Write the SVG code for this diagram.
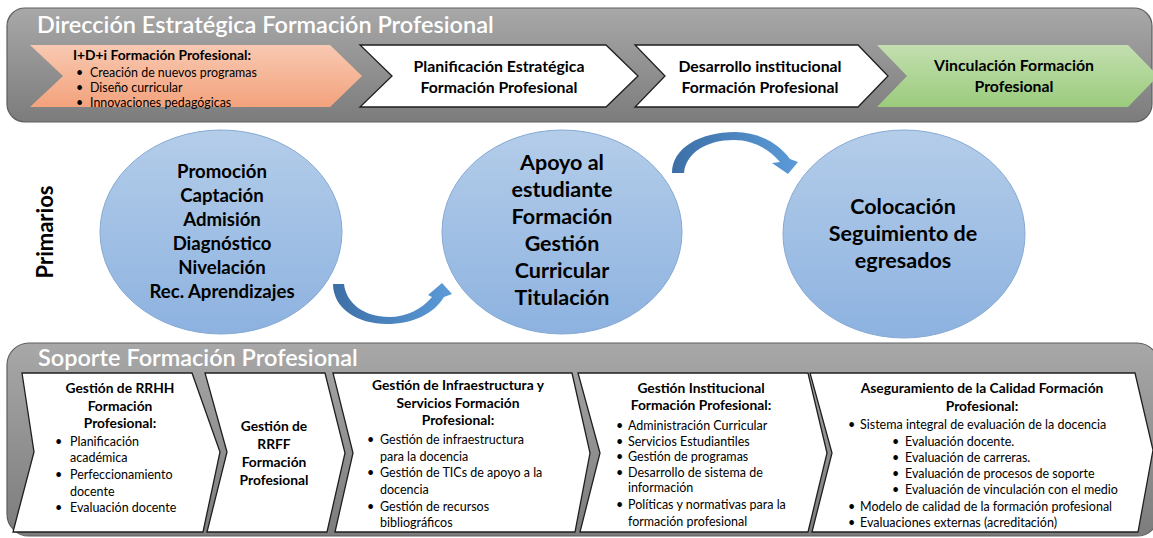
<svg xmlns="http://www.w3.org/2000/svg" width="1153" height="538" viewBox="0 0 1153 538">
  <defs>
    <linearGradient id="panelGrad" x1="0" y1="0" x2="0" y2="1">
      <stop offset="0" stop-color="#a8a8a8"/>
      <stop offset="1" stop-color="#7c7c7c"/>
    </linearGradient>
    <linearGradient id="orangeGrad" x1="0" y1="0" x2="0" y2="1">
      <stop offset="0" stop-color="#f8c9b2"/>
      <stop offset="1" stop-color="#f3a27c"/>
    </linearGradient>
    <linearGradient id="greenGrad" x1="0" y1="0" x2="0" y2="1">
      <stop offset="0" stop-color="#c3dfb0"/>
      <stop offset="1" stop-color="#9bcb7c"/>
    </linearGradient>
    <linearGradient id="circleGrad" x1="0" y1="0" x2="0" y2="1">
      <stop offset="0" stop-color="#b4cde9"/>
      <stop offset="1" stop-color="#8db2e0"/>
    </linearGradient>
    <linearGradient id="arrowGradA" x1="0" y1="0" x2="1" y2="0">
      <stop offset="0" stop-color="#3d6fa6"/>
      <stop offset="1" stop-color="#5b9bd8"/>
    </linearGradient>
    <style>
      .panel { fill: url(#panelGrad); stroke: #5e5e5e; stroke-width: 1.2; }
      .ptitle { font-family: Lato, "Liberation Sans", sans-serif; font-size: 23.5px; font-weight: 600; fill: #ffffff; }
      .chev { fill: #ffffff; stroke: #1f1f1f; stroke-width: 1.3; }
      .circle { fill: url(#circleGrad); stroke: #86a9d4; stroke-width: 1; }
      .t { font-family: Lato, "Liberation Sans", sans-serif; fill: #000000; }
      .hb { font-weight: bold; font-size: 15.8px; text-anchor: middle; }
      .h13 { font-weight: bold; font-size: 13.8px; text-anchor: middle; }
      .b12 { font-size: 12.5px; }
      .small { font-size: 12.4px; }
      .c1 { font-weight: bold; font-size: 18.6px; text-anchor: middle; }
      .c2 { font-weight: bold; font-size: 21.5px; text-anchor: middle; }
      .arrow { fill: url(#arrowGradA); }
    </style>
  </defs>

  <rect width="1153" height="538" fill="#ffffff"/>

  <!-- Strategic direction band -->
  <g id="direccion">
    <rect class="panel" x="7" y="8" width="1145" height="114" rx="18"/>
    <text class="ptitle" x="37" y="33">Dirección Estratégica Formación Profesional</text>
  </g>

  <g id="idi">
    <polygon points="30,45 330,45 362,76 330,107 30,107 63,76" fill="url(#orangeGrad)"/>
    <text class="t" x="73" y="60" font-size="13.8" font-weight="bold">I+D+i Formación Profesional:</text>
    <g class="t small">
      <text x="76" y="77">•</text><text x="90" y="77">Creación de nuevos programas</text>
      <text x="76" y="92">•</text><text x="90" y="92">Diseño curricular</text>
      <text x="76" y="107">•</text><text x="90" y="107">Innovaciones pedagógicas</text>
    </g>
  </g>

  <g id="planificacion">
    <polygon class="chev" points="360,45 606,45 638,76 606,107 360,107 392,76"/>
    <text class="t hb" x="499" y="72">Planificación Estratégica</text>
    <text class="t hb" x="499" y="93">Formación Profesional</text>
  </g>

  <g id="desarrollo">
    <polygon class="chev" points="635,45 858,45 888,76 858,107 635,107 665,76"/>
    <text class="t hb" x="760" y="72">Desarrollo institucional</text>
    <text class="t hb" x="760" y="93">Formación Profesional</text>
  </g>

  <g id="vinculacion">
    <polygon points="877,45 1128,45 1158,76 1128,107 877,107 907,76" fill="url(#greenGrad)"/>
    <text class="t hb" x="1014" y="71">Vinculación Formación</text>
    <text class="t hb" x="1014" y="92">Profesional</text>
  </g>

  <!-- Primary processes -->
  <g id="primarios">
    <text class="t" transform="translate(53,232) rotate(-90)" font-size="22" font-weight="bold" text-anchor="middle">Primarios</text>
  </g>

  <g id="ingreso">
    <ellipse class="circle" cx="221" cy="232" rx="121" ry="102"/>
    <text class="t c1" x="222" y="178">Promoción</text>
    <text class="t c1" x="222" y="202">Captación</text>
    <text class="t c1" x="222" y="226">Admisión</text>
    <text class="t c1" x="222" y="250">Diagnóstico</text>
    <text class="t c1" x="222" y="274">Nivelación</text>
    <text class="t c1" x="222" y="298">Rec. Aprendizajes</text>
  </g>

  <g id="formacion">
    <ellipse class="circle" cx="562" cy="232" rx="120" ry="102"/>
    <text class="t c2" x="562" y="170">Apoyo al</text>
    <text class="t c2" x="562" y="197">estudiante</text>
    <text class="t c2" x="562" y="224">Formación</text>
    <text class="t c2" x="562" y="251">Gestión</text>
    <text class="t c2" x="562" y="278">Curricular</text>
    <text class="t c2" x="562" y="305">Titulación</text>
  </g>

  <g id="egreso">
    <ellipse class="circle" cx="904" cy="234" rx="121" ry="104"/>
    <text class="t c2" x="903" y="214">Colocación</text>
    <text class="t c2" x="903" y="241">Seguimiento de</text>
    <text class="t c2" x="903" y="268">egresados</text>
  </g>

  <!-- Curved flow arrows -->
  <g id="connectors">
    <path class="arrow" d="M333,284 L344,284 C346,303 364,317 389,317 C407,317 422,309 432,297 L428,295 L442,283 L452,294 L444,297 C434,314 412,324 387,324 C357,324 333,308 333,284 Z"/>
    <path class="arrow" d="M672,173 C672,148 700,132 735,132 C758,132 778,143 790,159 L798,162 L788,174 L772,163 L780,162 C769,149 753,140 734,140 C706,140 686,153 684,173 Z"/>
  </g>

  <!-- Support band -->
  <g id="soporte">
    <rect class="panel" x="7" y="343" width="1152" height="193" rx="22"/>
    <text class="ptitle" x="38" y="366">Soporte Formación Profesional</text>
  </g>

  <g id="rrhh">
    <polygon class="chev" points="22,373 192,373 220,452 203,532 13,532 34,452"/>
    <text class="t h13" x="120" y="393">Gestión de RRHH</text>
    <text class="t h13" x="120" y="411">Formación</text>
    <text class="t h13" x="120" y="428">Profesional:</text>
    <g class="t b12">
      <text x="55" y="446">•</text><text x="70" y="446">Planificación</text>
      <text x="70" y="462">académica</text>
      <text x="55" y="479">•</text><text x="70" y="479">Perfeccionamiento</text>
      <text x="70" y="496">docente</text>
      <text x="55" y="512">•</text><text x="70" y="512">Evaluación docente</text>
    </g>
  </g>

  <g id="rrff">
    <polygon class="chev" points="205,373 325,373 345,453 327,532 207,532 227,452"/>
    <text class="t h13" x="274" y="431">Gestión de</text>
    <text class="t h13" x="274" y="449">RRFF</text>
    <text class="t h13" x="274" y="467">Formación</text>
    <text class="t h13" x="274" y="485">Profesional</text>
  </g>

  <g id="infraestructura">
    <polygon class="chev" points="333,373 572,373 590,453 575,532 335,532 353,453"/>
    <text class="t h13" x="458" y="390">Gestión de Infraestructura y</text>
    <text class="t h13" x="458" y="408">Servicios Formación</text>
    <text class="t h13" x="458" y="425">Profesional:</text>
    <g class="t b12">
      <text x="367" y="444">•</text><text x="380" y="444">Gestión de infraestructura</text>
      <text x="380" y="461">para la docencia</text>
      <text x="367" y="477">•</text><text x="380" y="477">Gestión de TICs de apoyo a la</text>
      <text x="380" y="494">docencia</text>
      <text x="367" y="511">•</text><text x="380" y="511">Gestión de recursos</text>
      <text x="380" y="527">bibliográficos</text>
    </g>
  </g>

  <g id="institucional">
    <polygon class="chev" points="578,373 808,373 827,453 808,532 580,532 600,453"/>
    <text class="t h13" x="701" y="393">Gestión Institucional</text>
    <text class="t h13" x="701" y="410">Formación Profesional:</text>
    <g class="t b12">
      <text x="616" y="430">•</text><text x="628" y="430">Administración Curricular</text>
      <text x="616" y="446">•</text><text x="628" y="446">Servicios Estudiantiles</text>
      <text x="616" y="461">•</text><text x="628" y="461">Gestión de programas</text>
      <text x="616" y="477">•</text><text x="628" y="477">Desarrollo de sistema de</text>
      <text x="628" y="492">información</text>
      <text x="616" y="509">•</text><text x="628" y="509">Políticas y normativas para la</text>
      <text x="628" y="526">formación profesional</text>
    </g>
  </g>

  <g id="calidad">
    <polygon class="chev" points="810,373 1135,373 1153,450 1138,532 812,532 832,453"/>
    <text class="t h13" x="982" y="393">Aseguramiento de la Calidad Formación</text>
    <text class="t h13" x="982" y="411">Profesional:</text>
    <g class="t b12">
      <text x="848" y="429">•</text><text x="860" y="429">Sistema integral de evaluación de la docencia</text>
      <text x="892" y="446">•</text><text x="905" y="446">Evaluación docente.</text>
      <text x="892" y="462">•</text><text x="905" y="462">Evaluación de carreras.</text>
      <text x="892" y="478">•</text><text x="905" y="478">Evaluación de procesos de soporte</text>
      <text x="892" y="494">•</text><text x="905" y="494">Evaluación de vinculación con el medio</text>
      <text x="848" y="511">•</text><text x="860" y="511">Modelo de calidad de la formación profesional</text>
      <text x="848" y="527">•</text><text x="860" y="527">Evaluaciones externas (acreditación)</text>
    </g>
  </g>
</svg>
